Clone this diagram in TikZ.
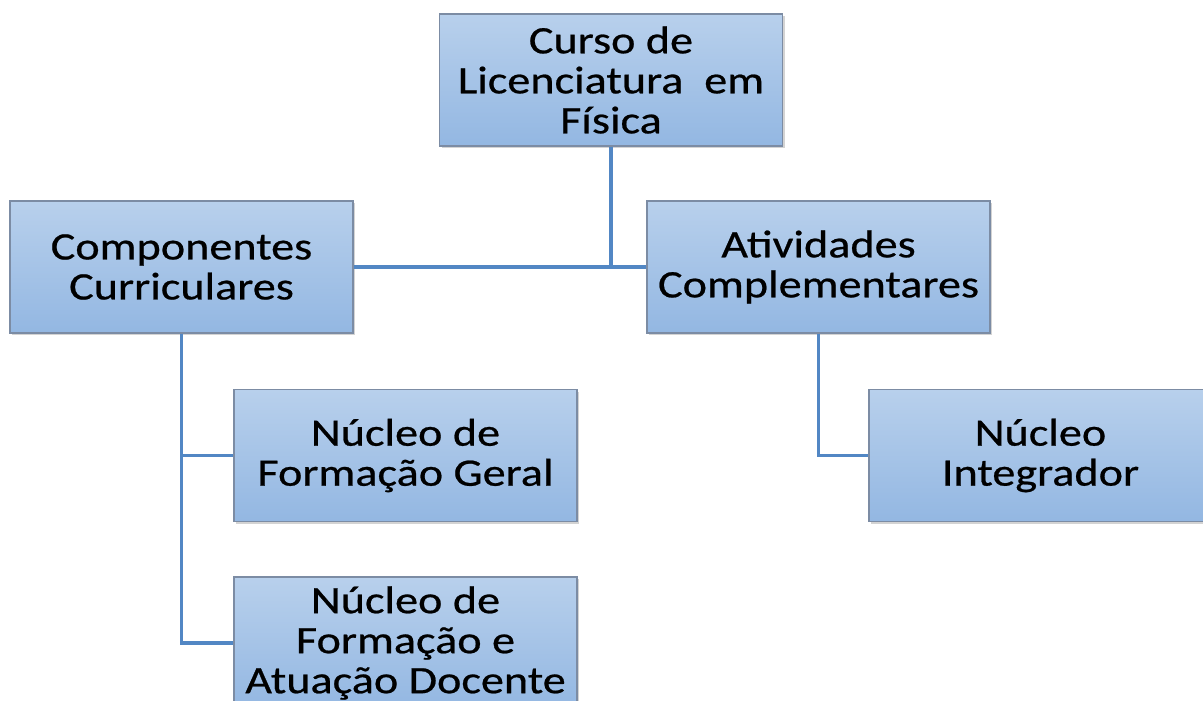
\documentclass[tikz,border=0pt]{standalone}
\usepackage{fontspec}
\setmainfont{Carlito}[FakeStretch=1.19, FakeBold=0.6]
\usepackage{tikz}
\usetikzlibrary{shadows}

\definecolor{boxtop}{HTML}{B8D0EC}
\definecolor{boxbottom}{HTML}{93B7E2}
\definecolor{boxline}{HTML}{7C8CA4}
\definecolor{linkblue}{HTML}{5287C4}

\begin{document}
\begin{tikzpicture}

    \tikzstyle{org box} = [rectangle, draw=boxline, line width=0.8pt,
        top color=boxtop, bottom color=boxbottom,
        minimum width=8.575cm, minimum height=3.3cm, inner sep=0pt,
        align=center, font=\fontsize{27.6}{28.45}\selectfont,
        drop shadow={shadow xshift=0.05cm, shadow yshift=-0.05cm, opacity=0.35}];
    \tikzstyle{org link} = [draw=linkblue, line width=2.6pt];

    \useasboundingbox (0,0) rectangle (30.075,-17.525);
    \clip (0,0) rectangle (30.075,-17.525);

    % Boxes
    \node[org box] (curso) at (15.275,-2.0) {Curso de\\Licenciatura\ \ em\\Física};
    \node[org box] (comp) at (4.5375,-6.675) {Componentes\\Curriculares};
    \node[org box] (ativ) at (20.4625,-6.675) {Atividades\\Complementares};
    \node[org box] (geral) at (10.1375,-11.3875) {Núcleo de\\Formação Geral};
    \node[org box] (docente) at (10.1375,-16.075) {Núcleo de\\Formação e\\Atuação Docente};
    \node[org box] (integ) at (26.0125,-11.3875) {Núcleo\\Integrador};

    % Links
    \draw[org link] (curso.south) -- (curso.south |- comp.east);
    \draw[org link] (comp.east) -- (ativ.west);
    \draw[org link] (comp.south) -- (comp.south |- docente.west) -- (docente.west);
    \draw[org link] (comp.south |- geral.west) -- (geral.west);
    \draw[org link] (ativ.south) -- (ativ.south |- integ.west) -- (integ.west);

\end{tikzpicture}
\end{document}
